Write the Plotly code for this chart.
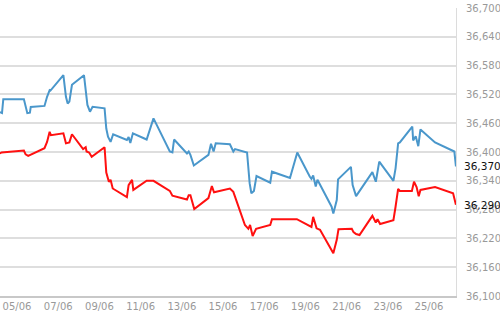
import plotly.graph_objects as go

# Blue series (upper)
blue_t = [
    "2014-06-04 04:00", "2014-06-04 06:30", "2014-06-04 08:00", "2014-06-05 08:00", "2014-06-05 12:00",
    "2014-06-05 15:00", "2014-06-05 16:00", "2014-06-06 08:00", "2014-06-06 11:00", "2014-06-06 14:00",
    "2014-06-06 15:00", "2014-06-07 06:00", "2014-06-07 09:00", "2014-06-07 11:00", "2014-06-07 13:00",
    "2014-06-07 16:00", "2014-06-08 06:00", "2014-06-08 08:00", "2014-06-08 10:00", "2014-06-08 13:00",
    "2014-06-08 16:00", "2014-06-09 06:00", "2014-06-09 08:00", "2014-06-09 10:00", "2014-06-09 13:00",
    "2014-06-09 16:00", "2014-06-10 08:00", "2014-06-10 10:00", "2014-06-10 12:00", "2014-06-10 15:00",
    "2014-06-11 07:00", "2014-06-11 15:00", "2014-06-12 10:00", "2014-06-12 13:00", "2014-06-12 15:00",
    "2014-06-13 06:00", "2014-06-13 08:00", "2014-06-13 10:00", "2014-06-13 14:00", "2014-06-14 07:00",
    "2014-06-14 10:00", "2014-06-14 13:00", "2014-06-14 15:30", "2014-06-15 08:00", "2014-06-15 12:00",
    "2014-06-15 14:00", "2014-06-16 04:00", "2014-06-16 07:00", "2014-06-16 09:00", "2014-06-16 12:00",
    "2014-06-16 15:00", "2014-06-17 07:00", "2014-06-17 09:00", "2014-06-18 06:00", "2014-06-18 14:30",
    "2014-06-19 05:00", "2014-06-19 07:00", "2014-06-19 09:00", "2014-06-19 12:00", "2014-06-19 14:00",
    "2014-06-20 06:30", "2014-06-20 08:30", "2014-06-20 12:30", "2014-06-20 14:00", "2014-06-21 05:00",
    "2014-06-21 07:00", "2014-06-21 11:00", "2014-06-22 06:00", "2014-06-22 10:00", "2014-06-22 14:00",
    "2014-06-23 06:30", "2014-06-23 09:00", "2014-06-23 12:00", "2014-06-23 14:00", "2014-06-24 04:30",
    "2014-06-24 05:30", "2014-06-24 08:30", "2014-06-24 11:30", "2014-06-24 14:00", "2014-06-25 07:00",
    "2014-06-26 05:30", "2014-06-26 07:20",
]
blue_v = [
    36483, 36481, 36510, 36510, 36481,
    36482, 36494, 36496, 36515, 36529,
    36528, 36560, 36515, 36501, 36505,
    36540, 36560, 36526, 36498, 36484,
    36494, 36491, 36449, 36432, 36421,
    36437, 36425, 36431, 36419, 36439,
    36426, 36470, 36401, 36399, 36426,
    36397, 36401, 36394, 36372, 36394,
    36417, 36401, 36418, 36416, 36401,
    36406, 36399, 36335, 36314, 36319,
    36350, 36336, 36359, 36346, 36399,
    36349, 36344, 36351, 36328, 36342,
    36286, 36272, 36300, 36343, 36369,
    36331, 36308, 36358, 36338, 36380,
    36340, 36366, 36418, 36420, 36453,
    36424, 36433, 36412, 36447, 36420,
    36401, 36370,
]

# Red series (lower)
red_t = [
    "2014-06-04 04:00", "2014-06-04 06:00", "2014-06-05 08:00", "2014-06-05 10:00", "2014-06-05 13:00",
    "2014-06-06 08:00", "2014-06-06 11:00", "2014-06-06 14:00", "2014-06-06 15:30", "2014-06-07 06:00",
    "2014-06-07 09:00", "2014-06-07 13:00", "2014-06-07 16:00", "2014-06-08 05:00", "2014-06-08 08:00",
    "2014-06-08 09:00", "2014-06-08 12:00", "2014-06-08 15:00", "2014-06-09 06:00", "2014-06-09 08:00",
    "2014-06-09 11:00", "2014-06-09 13:00", "2014-06-09 15:30", "2014-06-10 08:00", "2014-06-10 10:00",
    "2014-06-10 14:00", "2014-06-10 15:30", "2014-06-11 07:00", "2014-06-11 15:00", "2014-06-12 10:00",
    "2014-06-12 13:00", "2014-06-13 06:00", "2014-06-13 08:00", "2014-06-13 10:00", "2014-06-13 14:30",
    "2014-06-14 07:00", "2014-06-14 11:00", "2014-06-14 13:30", "2014-06-15 08:00", "2014-06-15 12:00",
    "2014-06-16 01:30", "2014-06-16 05:30", "2014-06-16 07:30", "2014-06-16 10:30", "2014-06-16 14:30",
    "2014-06-17 07:00", "2014-06-17 09:00", "2014-06-18 14:00", "2014-06-19 07:00", "2014-06-19 09:00",
    "2014-06-19 13:00", "2014-06-19 17:00", "2014-06-20 08:30", "2014-06-20 12:30", "2014-06-20 14:30",
    "2014-06-21 06:00", "2014-06-21 08:00", "2014-06-21 11:00", "2014-06-21 15:00", "2014-06-22 06:00",
    "2014-06-22 10:00", "2014-06-22 12:00", "2014-06-22 15:00", "2014-06-23 06:30", "2014-06-23 09:00",
    "2014-06-23 12:00", "2014-06-23 14:00", "2014-06-24 04:00", "2014-06-24 06:30", "2014-06-24 09:30",
    "2014-06-24 12:00", "2014-06-24 14:00", "2014-06-25 07:00", "2014-06-26 04:00", "2014-06-26 07:20",
]
red_v = [
    36397, 36399, 36403, 36395, 36392,
    36408, 36421, 36442, 36435, 36439,
    36418, 36420, 36437, 36406, 36410,
    36401, 36399, 36390, 36410, 36357,
    36338, 36342, 36324, 36306, 36331,
    36342, 36321, 36340, 36340, 36319,
    36309, 36301, 36310, 36310, 36281,
    36304, 36329, 36316, 36324, 36317,
    36248, 36240, 36248, 36225, 36240,
    36248, 36260, 36260, 36244, 36265,
    36241, 36238, 36189, 36217, 36239,
    36240, 36233, 36229, 36227, 36267,
    36253, 36260, 36250, 36258, 36286,
    36323, 36319, 36319, 36338, 36327,
    36308, 36321, 36327, 36314, 36290,
]

y_ticks = [36100, 36160, 36220, 36280, 36340, 36400, 36460, 36520, 36580, 36640, 36700]
x_range = ["2014-06-04 04:10", "2014-06-26 07:25"]

BLUE = "#4a97cb"
RED = "#ff1010"

fig = go.Figure()
fig.add_trace(go.Scatter(x=blue_t, y=blue_v, mode="lines",
                         line=dict(color=BLUE, width=2), hoverinfo="skip"))
fig.add_trace(go.Scatter(x=red_t, y=red_v, mode="lines",
                         line=dict(color=RED, width=2), hoverinfo="skip"))

font_family = "DejaVu Sans"
fig.update_layout(
    width=500, height=312,
    margin=dict(l=0, r=44, t=8, b=16),
    paper_bgcolor="white", plot_bgcolor="white",
    showlegend=False,
    font=dict(family=font_family, size=10, color="#999999"),
    xaxis=dict(
        type="date", range=x_range,
        tick0="2014-06-05", dtick=2 * 86400000, tickformat="%d/%m",
        showgrid=False, zeroline=False,
        showline=True, linecolor="#c8c8c8", linewidth=2,
        ticks="", tickfont=dict(size=10, color="#999999"),
        fixedrange=True,
    ),
    yaxis=dict(
        side="right", range=[36100, 36700],
        tickvals=y_ticks, tickformat=",d",
        showgrid=True, gridcolor="#dedede", gridwidth=1.5,
        zeroline=False, showline=True, linecolor="#dcdcdc", linewidth=1,
        ticks="", ticklabelstandoff=7,
        tickfont=dict(size=10, color="#999999"),
        fixedrange=True,
    ),
)

# Last-value labels
for vals in (blue_v, red_v):
    last = vals[-1]
    fig.add_annotation(
        x=1, xref="paper", y=last, yref="y",
        text=f"{last:,}", showarrow=False,
        xanchor="left", xshift=6,
        font=dict(family=font_family, size=10.5, color="#111111"),
    )

fig.write_html("out.html")
